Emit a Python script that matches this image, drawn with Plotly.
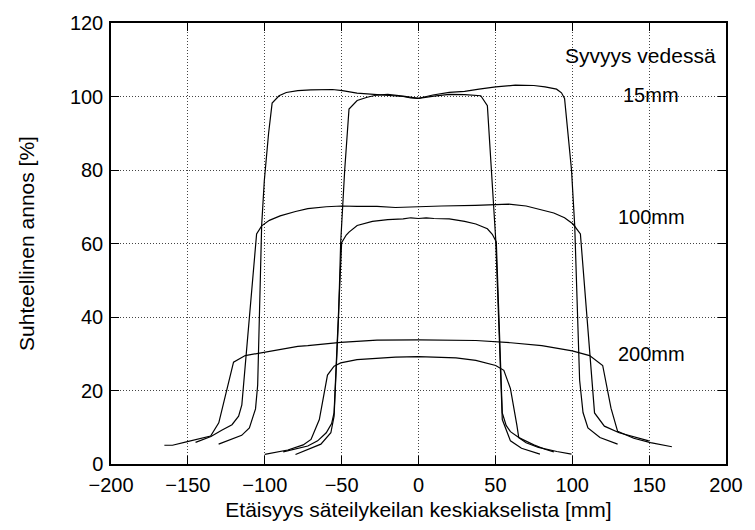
import plotly.graph_objects as go

# ---- data ----
x_15_large = [-130, -122, -115, -110, -106, -104.6, -102, -100.3, -97.5, -95.2, -90.7, -86, -78.5, -70, -56, -49.5,
              -40, -33.4, -20.6, -10, -5, 0, 3, 9.4, 20, 30, 39.4, 50.2, 63, 75, 82.3, 89.8, 93, 95,
              99.5, 101.6, 104.8, 107, 110.2, 118, 129.5]
y_15_large = [5.4, 6.6, 7.8, 9.8, 15, 21.5, 65, 77, 90, 98.2, 100.2, 101.1, 101.6, 101.8, 101.9, 101.6,
              100.9, 100.7, 100.4, 100.0, 99.6, 99.5, 99.8, 100.4, 101.1, 101.4, 102.0, 102.6, 103.1, 103.0, 102.6, 102.0, 101.0, 99.5,
              80.1, 64.9, 22.8, 14, 9.8, 7.2, 5.4]

x_100_large = [-145, -135, -128, -121.3, -117, -114.9, -105.3, -102, -97, -90, -80, -72, -60, -50, -40, -27, -15, 0,
               15, 37, 50, 58.7, 70, 80.2, 88, 95, 100.5, 105.3, 114.5, 120.9, 130.5, 149.8]
y_100_large = [5.9, 7.5, 9.2, 10.7, 13, 16.1, 62.6, 64.8, 66.3, 67.5, 68.7, 69.5, 70.0, 70.2, 70.1, 70.1, 69.8, 69.9,
               70.2, 70.4, 70.7, 70.7, 70.2, 69.2, 68.3, 67.0, 65.3, 62.6, 13.9, 10.3, 8.5, 6.3]

x_200_large = [-165.3, -160, -151, -142, -135.2, -129.9, -125, -120.3, -112.7, -99.9, -78.5, -72, -50.6, -27, 0,
               37.3, 60, 80.2, 90, 100, 111.3, 119.8, 125.2, 129.5, 140, 150.9, 164.8]
y_200_large = [5.1, 5.1, 6.0, 6.8, 7.6, 11.2, 19.5, 27.7, 29.5, 30.4, 32.0, 32.2, 33.1, 33.7, 33.8,
               33.6, 33.0, 32.2, 31.5, 30.8, 29.5, 26.8, 15.2, 8.9, 7.0, 5.8, 4.7]

x_15_small = [-80, -72, -63.5, -57, -54.9, -52, -50.6, -48, -45.2, -39.9, -33.4, -27, -20, -10, 0, 10, 20, 30,
              37.3, 40.5, 44.8, 50.2, 54.5, 59.8, 67, 79]
y_15_small = [2.6, 4.0, 5.4, 8.5, 13, 40, 60.4, 80, 96.6, 98.9, 99.8, 100.4, 100.6, 100.1, 99.5, 100.1, 100.6, 100.5,
              100.2, 100.2, 97.5, 61.3, 12.1, 6.3, 4.3, 2.7]

x_100_small = [-88, -80, -72, -65.6, -60, -56.5, -54.9, -50, -47, -45.2, -39.9, -30, -20, -10, -5, 0, 5, 10, 20, 30,
               37.3, 44.8, 48, 50.6, 54.5, 57, 59.8, 65.2, 75, 82.3, 88]
y_100_small = [3.3, 4.0, 4.9, 6.3, 8.5, 11, 14, 60.2, 62.3, 63.1, 64.9, 66.0, 66.5, 66.7, 67.0, 66.8, 67.0, 66.8, 66.7, 66.0,
               65.3, 64.0, 62.5, 60.4, 13.9, 10.5, 8.8, 7.2, 5.2, 4.0, 3.3]

x_200_small = [-100, -85, -75, -69.9, -64.5, -59.2, -54.9, -50.6, -40, -27, -15, 0, 15, 24.4, 37.3, 50.2, 55.5,
               59.8, 64, 65.2, 70, 78, 90, 99.5]
y_200_small = [2.6, 3.8, 5.2, 6.7, 12.1, 24.2, 26.6, 27.5, 28.4, 28.8, 29.1, 29.2, 29.1, 28.9, 28.2, 26.8, 25.5,
               20.5, 10.5, 7.2, 5.8, 4.5, 3.4, 2.7]

curves = [
    (x_15_large, y_15_large), (x_100_large, y_100_large), (x_200_large, y_200_large),
    (x_15_small, y_15_small), (x_100_small, y_100_small), (x_200_small, y_200_small),
]

legend_title = "Syvyys vedessä"
depth_labels = ["15mm", "100mm", "200mm"]
label_y = [100.3, 67.3, 29.8]

x_title = "Etäisyys säteilykeilan keskiakselista [mm]"
y_title = "Suhteellinen annos [%]"

FONT = "Liberation Sans, Arial, Helvetica, sans-serif"

fig = go.Figure()
for xs, ys in curves:
    fig.add_trace(go.Scatter(x=xs, y=ys, mode="lines",
                             line=dict(color="black", width=1.2),
                             showlegend=False, hoverinfo="skip"))

fig.add_annotation(x=144.5, y=111.2, xref="x", yref="y", text=legend_title,
                   showarrow=False, font=dict(family=FONT, size=21, color="black"))
for lab, yy in zip(depth_labels, label_y):
    fig.add_annotation(x=151.5, y=yy, xref="x", yref="y", text=lab,
                       showarrow=False, font=dict(family=FONT, size=20, color="black"))

axis_common = dict(
    showline=True, linecolor="black", linewidth=1.5, mirror="ticks",
    ticks="inside", ticklen=8, tickwidth=1.2, tickcolor="black",
    showgrid=True, gridcolor="#444444", gridwidth=1, griddash="1px,2px",
    zeroline=False, tickfont=dict(family=FONT, size=20, color="black"),
)

fig.update_layout(
    width=755, height=530,
    margin=dict(l=111, r=22, t=18, b=65),
    paper_bgcolor="white", plot_bgcolor="white",
    font=dict(family=FONT, color="black"),
    xaxis=dict(range=[-200, 200], dtick=50, tick0=0,
               title=dict(text=x_title, font=dict(family=FONT, size=21), standoff=8),
               ticklabelstandoff=2,
               **axis_common),
    yaxis=dict(range=[0, 120], dtick=20, tick0=0,
               title=dict(text=y_title, font=dict(family=FONT, size=21), standoff=30),
               ticklabelstandoff=2,
               **axis_common),
)

fig.write_html("out.html")
